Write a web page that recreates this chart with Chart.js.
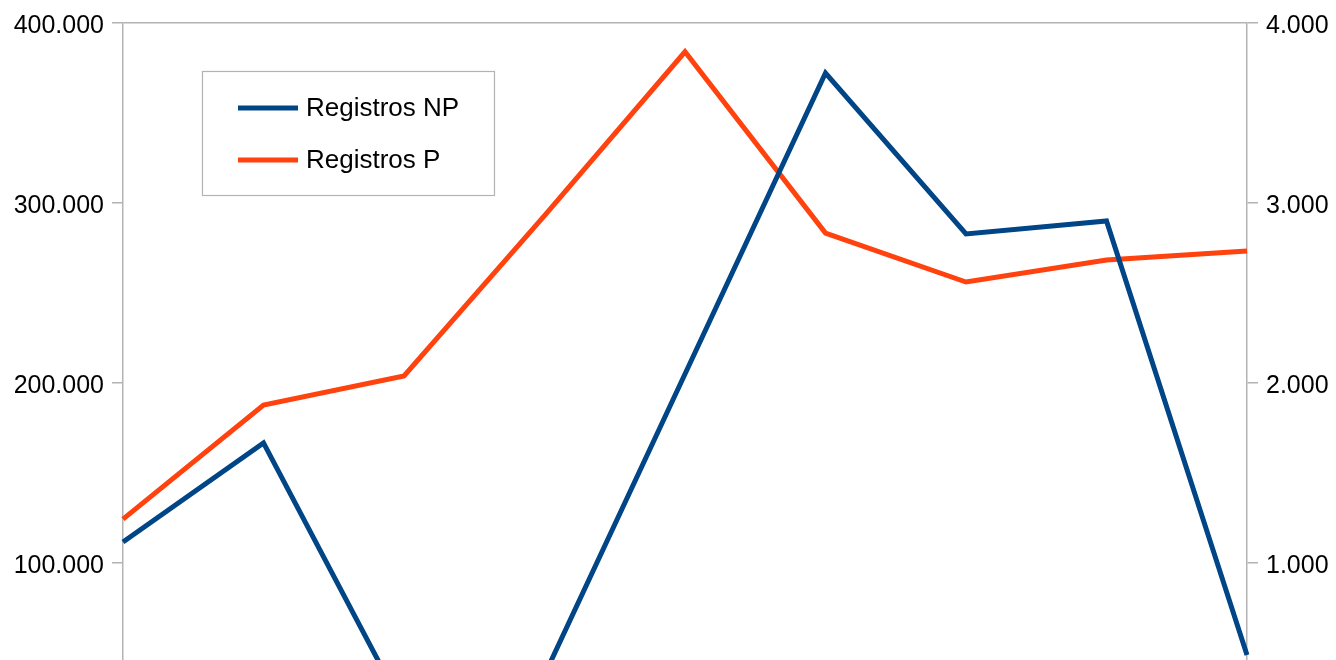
<!DOCTYPE html>
<html>
<head>
<meta charset="utf-8">
<script src="https://cdn.jsdelivr.net/npm/chart.js@4/dist/chart.umd.min.js"></script>
<style>
  html, body { margin: 0; padding: 0; background: #fff; overflow: hidden; }
  #wrap { width: 1336px; height: 683px; }
</style>
</head>
<body>
<div id="wrap"><canvas id="myChart"></canvas></div>
<script>
// datos
const categories = ['1', '2', '3', '4', '5', '6', '7', '8', '9'];
const registrosNP = [111700, 166700, 18600, 37800, 205000, 372200, 282800, 290000, 48900];
const registrosP = [1244, 1878, 2039, 2930, 3840, 2833, 2561, 2683, 2733];
const leftTicks = [100000, 200000, 300000, 400000];
const rightTicks = [1000, 2000, 3000, 4000];

const blue = '#004586';
const orange = '#ff420e';
const gray = '#b3b3b3';
const fontFamily = 'Liberation Sans, Arial, sans-serif';
const tickFont = { family: fontFamily, size: 25 };

// separador de miles con punto
const fmtK = (v) => String(v).replace(/\B(?=(\d{3})+(?!\d))/g, '.');

// leyenda dentro del grafico
const boxLegend = {
  id: 'boxLegend',
  afterDraw(chart) {
    const ctx = chart.ctx;
    ctx.save();
    ctx.fillStyle = '#fff';
    ctx.fillRect(202, 71, 292, 124);
    ctx.strokeStyle = gray;
    ctx.lineWidth = 1.2;
    ctx.strokeRect(202.5, 71.5, 292, 124);
    ctx.font = '26px ' + fontFamily;
    ctx.textBaseline = 'middle';
    chart.data.datasets.forEach((ds, i) => {
      const y = 108 + i * 52;
      ctx.strokeStyle = ds.borderColor;
      ctx.lineWidth = 5;
      ctx.beginPath();
      ctx.moveTo(238, y);
      ctx.lineTo(298, y);
      ctx.stroke();
      ctx.fillStyle = '#000';
      ctx.fillText(ds.label, 306, y + 1);
    });
    ctx.restore();
  }
};

const ctx = document.getElementById('myChart').getContext('2d');
new Chart(ctx, {
  type: 'line',
  data: {
    labels: categories,
    datasets: [
      {
        label: 'Registros NP',
        data: registrosNP,
        borderColor: blue,
        backgroundColor: blue,
        borderWidth: 5,
        pointRadius: 0,
        tension: 0,
        yAxisID: 'y',
      },
      {
        label: 'Registros P',
        data: registrosP,
        borderColor: orange,
        backgroundColor: orange,
        borderWidth: 5,
        pointRadius: 0,
        tension: 0,
        yAxisID: 'y1',
      },
    ],
  },
  options: {
    responsive: true,
    maintainAspectRatio: false,
    animation: false,
    layout: { padding: 0 },
    plugins: { legend: { display: false }, tooltip: { enabled: false } },
    scales: {
      x: { display: false, offset: false },
      y: {
        position: 'left',
        min: 46111,
        max: 400000,
        afterBuildTicks: (axis) => { axis.ticks = leftTicks.map((v) => ({ value: v })); },
        afterFit: (axis) => { axis.width = 123; },
        ticks: { color: '#000', font: tickFont, padding: 8, labelOffset: 3, callback: (v) => fmtK(v) },
        grid: {
          color: (c) => (c.tick && c.tick.value === 400000 ? gray : 'transparent'),
          tickColor: gray,
          tickLength: 11,
          lineWidth: 1.5,
        },
        border: { color: gray, width: 1.5 },
      },
      y1: {
        position: 'right',
        min: 461.11,
        max: 4000,
        afterBuildTicks: (axis) => { axis.ticks = rightTicks.map((v) => ({ value: v })); },
        afterFit: (axis) => { axis.width = 89; },
        ticks: { color: '#000', font: tickFont, padding: 8, labelOffset: 3, callback: (v) => fmtK(v) },
        grid: { drawOnChartArea: false, tickColor: gray, tickLength: 11, lineWidth: 1.5 },
        border: { color: gray, width: 1.5 },
      },
    },
  },
  plugins: [boxLegend],
});
</script>
</body>
</html>
